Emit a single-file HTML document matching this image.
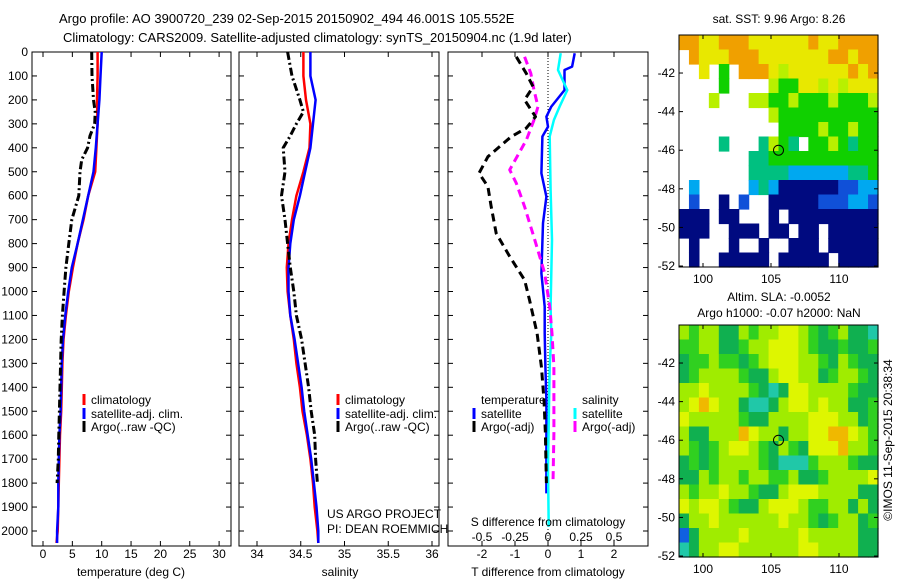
<!DOCTYPE html>
<html><head><meta charset="utf-8"><style>
html,body{margin:0;padding:0;background:#fff;}
svg{display:block;font-family:"Liberation Sans",sans-serif;}
</style></head><body>
<svg id="fig" width="900" height="580" viewBox="0 0 900 580" xmlns="http://www.w3.org/2000/svg">
<text x="59" y="23" font-size="13">Argo profile: AO 3900720_239 02-Sep-2015 20150902_494 46.001S 105.552E</text>
<text x="63" y="42" font-size="13">Climatology: CARS2009. Satellite-adjusted climatology: synTS_20150904.nc (1.9d later)</text>
<text x="779" y="23" font-size="12" text-anchor="middle">sat. SST: 9.96 Argo: 8.26</text>
<text x="779" y="301" font-size="12" text-anchor="middle">Altim. SLA: -0.0052</text>
<text x="779" y="317" font-size="12" text-anchor="middle">Argo h1000: -0.07 h2000: NaN</text>
<text transform="translate(892,440) rotate(-90)" font-size="12" text-anchor="middle">©IMOS 11-Sep-2015 20:38:34</text>
</svg>
<script>
// ---------- data ----------
const depths = [0,100,200,300,400,500,600,700,800,900,1000,1100,1200,1300,1400,1500,1600,1700,1800,1900,2000,2050];
const tempClim = [9.3,9.3,9.2,9.3,9.1,8.9,7.7,6.9,5.9,5.1,4.4,3.9,3.5,3.3,3.2,3.1,2.9,2.8,2.7,2.6,2.5,2.3];
const tempSat  = [10.0,9.8,9.6,9.3,9.0,8.6,7.7,6.8,5.9,4.9,4.3,3.8,3.4,3.2,3.1,3.0,2.8,2.7,2.6,2.6,2.4,2.4];
const argoDepths = [0,100,200,250,300,350,400,450,500,600,700,800,900,1000,1100,1200,1300,1400,1500,1600,1700,1800];
const tempArgo = [8.3,8.35,8.6,8.9,8.8,8.0,7.6,6.6,6.3,6.1,4.9,4.4,3.9,3.6,3.3,3.1,3.0,2.9,2.8,2.7,2.6,2.4];
const salClim = [34.53,34.53,34.56,34.61,34.60,34.53,34.45,34.40,34.36,34.34,34.35,34.38,34.42,34.45,34.49,34.52,34.57,34.61,34.64,34.66,34.69,34.70];
const salSat  = [34.61,34.61,34.67,34.64,34.61,34.55,34.49,34.42,34.38,34.36,34.36,34.38,34.43,34.47,34.51,34.54,34.58,34.62,34.65,34.68,34.70,34.70];
const salArgo = [34.35,34.40,34.49,34.53,34.45,34.38,34.30,34.31,34.32,34.28,34.32,34.35,34.38,34.42,34.45,34.51,34.55,34.59,34.62,34.66,34.67,34.69];
const dTSatDepths = [5,61,75,159,228,270,312,353,506,604,715,924,1063,1175,1314,1453,1592,1731,1843];
const dTSat = [0.81,0.73,0.5,0.5,0.1,-0.05,0,-0.17,-0.2,-0.05,-0.15,-0.2,-0.1,-0.1,-0.08,-0.05,-0.05,-0.05,-0.05];
const dTArgoDepths = [20,89,145,200,270,318,353,437,506,562,646,757,854,952,1035,1175,1314,1453,1592,1800];
const dTArgo = [-0.96,-0.66,-0.45,-0.71,-0.38,-0.66,-1.11,-1.82,-2.09,-1.82,-1.72,-1.57,-1.16,-0.71,-0.56,-0.33,-0.2,-0.12,-0.08,-0.05];
const dSSatDepths = [5,75,159,228,284,353,576,785,1063,1175,1314,1453,1731,1982];
const dSSat = [0.096,0.076,0.146,0.088,0.045,0.013,0.02,0.03,0.02,0.025,0.013,0.008,0,0.005];
const dSArgoDepths = [20,89,159,228,284,367,492,548,646,785,924,1063,1175,1314,1453,1592,1800];
const dSArgo = [-0.177,-0.13,-0.106,-0.076,-0.106,-0.164,-0.29,-0.24,-0.177,-0.1,-0.025,0.013,0.03,0.045,0.045,0.045,0.038];
const depthTicks = [0,100,200,300,400,500,600,700,800,900,1000,1100,1200,1300,1400,1500,1600,1700,1800,1900,2000];
const tempTicks = [0,5,10,15,20,25,30];
const salTicks = [34,34.5,35,35.5,36];
const dTTicks = [-2,-1,0,1,2];
const dSTicks = [-0.5,-0.25,0,0.25,0.5];
const dSTickLabels = ["-0.5","-0.25","0","0.25","0.5"];
const latTicks = [-42,-44,-46,-48,-50,-52];
const lonTicks = [100,105,110];
const argoLon = 105.552, argoLat = -46.001;
// map1 SST classes
const sstRows = [
"ooyyoooyyyyyyoyyoooo",
".oyyyoooyyyyyyyooyoo",
"..y.g.oooylyyyyyyoyo",
"....g....lggyylylyyy",
"...l...llgglggglgggl",
".........lgggggggggg",
"..........gggglgglgg",
"....c...clgc.gglgcgg",
".......ccggggggggggg",
".......ccccbbbbbbccg",
".b.....bcbnnnnnnBBbb",
".B..n.B..nnnnnBBBbbB",
"nnn.nn...n.nnnnnnnnn",
"nnn..nnn.nn.nn.nnnnn",
".n...n..n..nnn.nnnnn",
".n..nnnnn.nnnnn.nnnn"];
// map2 SLA classes
const slaRows = [
"lgllGGlgllyylgGglGGc",
"ggllGGgllyyylgGGgGGg",
"GgglggGglyyyllgGlgGG",
"GgllllgGGlyyllGgllgG",
"llyllllgGcGyyllllgGG",
"lyoyllGccGlyylyllGGg",
"ylllllgGGllllyyyllGg",
"lGGllloyllGllyyooylg",
"lgGglyylgGlgGyyyollg",
"GgGgllllgGcccglllgGG",
"GGlgllgllgglGGglllly",
"lgllyllgGGlyyyllllGG",
"ylyylgGGlyyylggllGlG",
"GllyllllllyllgGgllGg",
"bGllllylllllylllllGG",
"cGllyyllllllyyllllGG"];
const sstColors = {o:"#f0a000",y:"#e8e800",l:"#b8f000",g:"#10d000",c:"#00c080",b:"#00a8f0",B:"#1050d8",n:"#000a80"};
const slaColors = {G:"#10b050",g:"#30d020",l:"#a0ec00",y:"#def600",o:"#f0b800",c:"#20c8a8",b:"#1060e0"};

// ---------- helpers ----------
const NS = "http://www.w3.org/2000/svg";
const svg = document.getElementById('fig');
function mk(tag, attrs, parent){
  const e = document.createElementNS(NS, tag);
  for (const k in attrs) e.setAttribute(k, attrs[k]);
  (parent||svg).appendChild(e);
  return e;
}
const TOP=52, BOT=546;
function yD(d){ return 52 + d*0.2395; }
function xT(t){ return 43 + t*5.87; }
function xS(s){ return 257 + (s-34)*87.5; }
function xDT(t){ return 548 + t*33; }
function xDS(s){ return 548 + s*132; }
function lonX(l){ return 703 + (l-100)*13.6; }
function latY(l, top){ return top + (-40.03 - l)*19.3; }

function panel(name, x0, x1){
  const r = mk('rect',{x:x0,y:TOP,width:x1-x0,height:BOT-TOP,fill:'none',stroke:'#000','stroke-width':1});
  
  
  depthTicks.forEach(d=>{
    const t1 = mk('line',{x1:x0,x2:x0+5,y1:yD(d),y2:yD(d),stroke:'#000'});
    
    
    const t2 = mk('line',{x1:x1-5,x2:x1,y1:yD(d),y2:yD(d),stroke:'#000'});
    
    
  });
}
function xticks(name, ticks, fx, labels){
  ticks.forEach((v,i)=>{
    const x = fx(v);
    const a = mk('line',{x1:x,x2:x,y1:BOT,y2:BOT-5,stroke:'#000'});
    
    
    const b = mk('line',{x1:x,x2:x,y1:TOP,y2:TOP+5,stroke:'#000'});
    
    
    const t = mk('text',{x:x,y:558,'font-size':12,'text-anchor':'middle'});
    t.textContent = labels ? labels[i] : String(v);
    
    
  });
}
function line(name, xs, ds, fx, color, w, dash){
  const pts = xs.map((v,i)=>fx(v).toFixed(1)+','+yD(ds[i]).toFixed(1)).join(' ');
  const p = mk('polyline',{points:pts,fill:'none',stroke:color,'stroke-width':w,'stroke-linejoin':'round'});
  if (dash) p.setAttribute('stroke-dasharray', dash);
  
  
}
function label(txt, x, y, name, anchor, size){
  const t = mk('text',{x:x,y:y,'font-size':size||12,'text-anchor':anchor||'start'});
  t.textContent = txt;
  
  
  return t;
}
function legendEntry(txt, x, y, color, name){
  const m = mk('line',{x1:x,x2:x,y1:y-10,y2:y+1,stroke:color,'stroke-width':3});
  
  
  label(txt, x+7, y, name);
}

// ---------- panel 1: temperature ----------
panel('temperature-panel', 32, 231);
depthTicks.forEach(d=>label(String(d), 28, yD(d)+4, 'depth-tick-label', 'end'));
xticks('temperature', tempTicks, xT);
label('temperature (deg C)', 131, 576, 'temperature-axis-title', 'middle');
line('temp-climatology', tempClim, depths, xT, '#ff0000', 2.5);
line('temp-satellite-adj', tempSat, depths, xT, '#0000ff', 2.5);
line('temp-argo', tempArgo, argoDepths, xT, '#000', 3, '8,3,2,3');
legendEntry('climatology', 84, 404, '#ff0000', 'temp-legend-climatology');
legendEntry('satellite-adj. clim.', 84, 418, '#0000ff', 'temp-legend-satellite');
legendEntry('Argo(..raw -QC)', 84, 431, '#000', 'temp-legend-argo');

// ---------- panel 2: salinity ----------
panel('salinity-panel', 239, 439);
xticks('salinity', salTicks, xS);
label('salinity', 340, 576, 'salinity-axis-title', 'middle');
line('sal-climatology', salClim, depths, xS, '#ff0000', 2.5);
line('sal-satellite-adj', salSat, depths, xS, '#0000ff', 2.5);
line('sal-argo', salArgo, argoDepths, xS, '#000', 3, '8,3,2,3');
legendEntry('climatology', 338, 404, '#ff0000', 'sal-legend-climatology');
legendEntry('satellite-adj. clim.', 338, 418, '#0000ff', 'sal-legend-satellite');
legendEntry('Argo(..raw -QC)', 338, 431, '#000', 'sal-legend-argo');

// ---------- panel 3: differences ----------
panel('difference-panel', 448, 648);
const zl = mk('line',{x1:548,x2:548,y1:TOP,y2:BOT,stroke:'#000','stroke-dasharray':'1,2'});


xticks('t-diff', dTTicks, xDT);
label('T difference from climatology', 548, 576, 't-diff-axis-title', 'middle');
line('dT-satellite', dTSat, dTSatDepths, xDT, '#0000ff', 2.5);
line('dS-satellite', dSSat, dSSatDepths, xDS, '#00ffff', 2.5);
line('dS-argo', dSArgo, dSArgoDepths, xDS, '#ff00ff', 3, '8,5');
line('dT-argo', dTArgo, dTArgoDepths, xDT, '#000', 3, '8,5');
dSTicks.forEach((v,i)=>label(dSTickLabels[i], xDS(v), 541, 's-diff-tick-label', 'middle'));
label('S difference from climatology', 548, 526, 's-diff-axis-title', 'middle');
label('temperature', 481, 404, 'diff-legend-temperature-header');
label('salinity', 582, 404, 'diff-legend-salinity-header');
legendEntry('satellite', 474, 418, '#0000ff', 'diff-legend-t-satellite');
legendEntry('Argo(-adj)', 474, 431, '#000', 'diff-legend-t-argo');
legendEntry('satellite', 575, 418, '#00ffff', 'diff-legend-s-satellite');
legendEntry('Argo(-adj)', 575, 431, '#ff00ff', 'diff-legend-s-argo');
label('US ARGO PROJECT', 327, 518, 'credit-project');
label('PI: DEAN ROEMMICH', 327, 533, 'credit-pi');

// ---------- maps ----------
function map(name, rows, colors, top){
  const L=679, R=878, B=top+232;
  const g = mk('g',{});
  
  
  const nr = rows.length;
  rows.forEach((row,ri)=>{
    const nc = row.length;
    const cw = (R-L)/nc, ch = (B-top)/nr;
    for (let ci=0; ci<nc; ci++){
      const c = colors[row[ci]];
      if (!c) continue;
      const r = mk('rect',{x:(L+ci*cw).toFixed(2),y:(top+ri*ch).toFixed(2),width:(cw+0.6).toFixed(2),height:(ch+0.6).toFixed(2),fill:c}, g);
      
      
    }
  });
  const fr = mk('rect',{x:L,y:top,width:R-L,height:B-top,fill:'none',stroke:'#000'});
  
  
  latTicks.forEach(l=>{
    const y = latY(l, top);
    const a = mk('line',{x1:L,x2:L+4,y1:y,y2:y,stroke:'#000'});
    
    
    const b = mk('line',{x1:R-4,x2:R,y1:y,y2:y,stroke:'#000'});
    
    
    label(String(l), 675, y+4, name+'-lat-label', 'end');
  });
  lonTicks.forEach(l=>{
    const x = lonX(l);
    const a = mk('line',{x1:x,x2:x,y1:B,y2:B-4,stroke:'#000'});
    
    
    const b = mk('line',{x1:x,x2:x,y1:top,y2:top+4,stroke:'#000'});
    
    
    label(String(l), x, B+16, name+'-lon-label', 'middle');
  });
  const c = mk('circle',{cx:lonX(argoLon),cy:latY(argoLat, top),r:5,fill:'none',stroke:'#000'});
  
  
}
map('sst-map', sstRows, sstColors, 35);
map('sla-map', slaRows, slaColors, 325);
</script>
</body></html>
